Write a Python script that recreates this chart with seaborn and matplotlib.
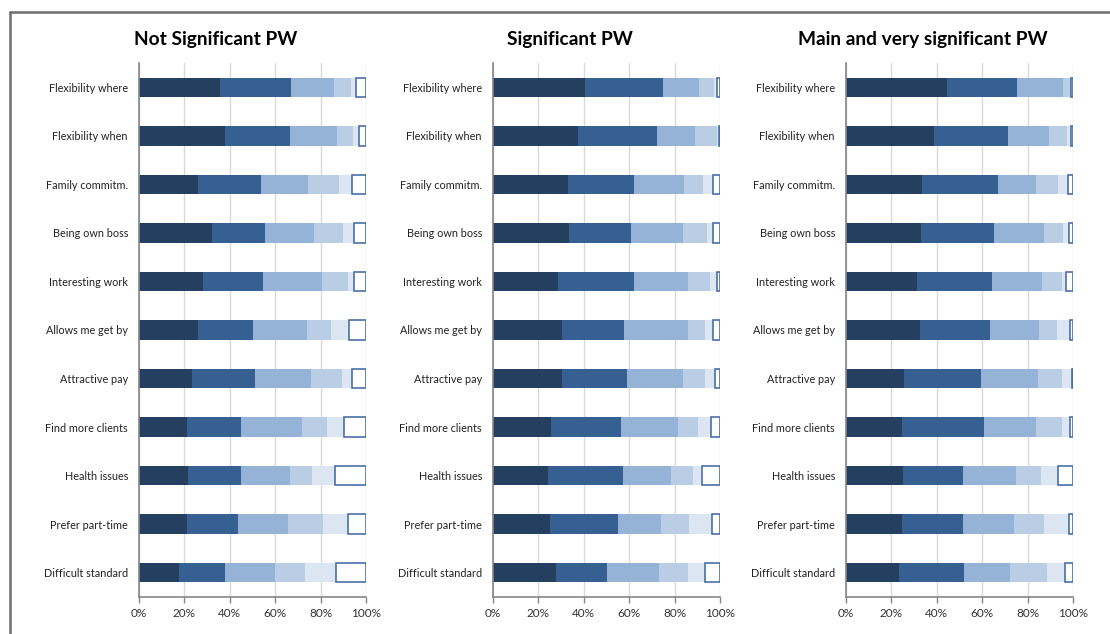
import matplotlib
matplotlib.use("Agg")
import matplotlib.pyplot as plt
import seaborn as sns
import numpy as np
import pandas as pd
from matplotlib.lines import Line2D

categories = ["Flexibility where", "Flexibility when", "Family commitm.", "Being own boss",
              "Interesting work", "Allows me get by", "Attractive pay", "Find more clients",
              "Health issues", "Prefer part-time", "Difficult standard"]

panel_titles = ["Not Significant PW", "Significant PW", "Main and very significant PW"]

# cumulative boundaries (%) of the first five segments; last segment runs to 100%
cum_not_sig = [
    [35.5, 66.9, 86.1, 93.5, 95.5],
    [38.1, 66.6, 87.4, 94.4, 96.8],
    [26.2, 53.7, 74.6, 88.3, 93.7],
    [32.0, 55.7, 77.0, 90.0, 94.7],
    [28.2, 54.8, 80.8, 92.2, 94.6],
    [26.2, 50.1, 74.2, 84.8, 92.4],
    [23.5, 50.9, 75.7, 89.6, 93.7],
    [21.0, 44.9, 71.6, 82.6, 90.2],
    [21.4, 44.9, 66.6, 76.4, 86.2],
    [21.0, 43.5, 65.8, 81.2, 92.2],
    [17.6, 38.0, 59.8, 73.2, 86.8],
]
cum_sig = [
    [40.5, 75.1, 90.6, 97.4, 98.8],
    [37.6, 72.4, 89.2, 98.7, 99.4],
    [32.9, 62.0, 84.2, 92.4, 96.8],
    [33.5, 60.7, 83.6, 94.2, 96.8],
    [28.8, 62.1, 86.0, 95.5, 98.7],
    [30.3, 57.7, 86.0, 93.4, 96.9],
    [30.6, 58.9, 83.9, 93.4, 97.8],
    [25.7, 56.4, 81.4, 90.2, 96.1],
    [24.1, 57.3, 78.2, 88.3, 92.1],
    [24.9, 55.0, 74.0, 86.3, 96.5],
    [27.8, 50.4, 73.1, 86.1, 93.3],
]
cum_main = [
    [44.4, 75.5, 95.7, 98.5, 99.0],
    [38.6, 71.4, 89.4, 97.2, 99.0],
    [33.4, 66.9, 83.6, 93.3, 97.7],
    [33.1, 65.2, 87.2, 95.5, 98.1],
    [31.1, 64.2, 86.2, 95.0, 96.9],
    [32.6, 63.3, 85.0, 93.1, 98.7],
    [25.5, 59.5, 84.6, 95.2, 99.6],
    [24.8, 60.7, 83.6, 95.0, 98.5],
    [25.2, 51.6, 75.1, 86.1, 93.4],
    [24.8, 51.5, 74.0, 87.1, 98.1],
    [23.5, 52.1, 72.1, 88.4, 96.5],
]

seg_colors = ["#243F60", "#366092", "#95B3D7", "#B9CDE5", "#DCE6F2", "#FFFFFF"]

sns.set_style("white")
plt.rcParams["font.family"] = ["Lato", "DejaVu Sans"]

fig = plt.figure(figsize=(11.10, 6.34), dpi=100)

lefts = [139 / 1110, 493 / 1110, 846 / 1110]
width = 227 / 1110
bottom = 1 - 597 / 634
height = (597 - 63) / 634

for p, (cum, title) in enumerate(zip([cum_not_sig, cum_sig, cum_main], panel_titles)):
    ax = fig.add_axes([lefts[p], bottom, width, height])
    arr = np.array(cum)
    full = np.column_stack([arr, np.full(len(categories), 100.0)])
    # draw from the end (100%) back so each shorter bar overlays the longer one
    for k in range(5, -1, -1):
        df = pd.DataFrame({"cat": categories, "val": full[:, k]})
        sns.barplot(data=df, y="cat", x="val", orient="h", color=seg_colors[k],
                    edgecolor="none", linewidth=0, width=0.4, ax=ax, saturation=1)
    # outlined last segment (from the end of the fifth segment to 100%)
    ypos = np.arange(len(categories))
    ax.barh(ypos, 100.0 - arr[:, 4], left=arr[:, 4], height=0.4,
            color="white", edgecolor="#4A6FA5", linewidth=1.2, zorder=3)
    ax.set_xlim(0, 100)
    ax.set_ylim(len(categories) - 0.5, -0.5)
    ax.set_xlabel("")
    ax.set_ylabel("")
    ax.set_xticks([0, 20, 40, 60, 80, 100])
    ax.set_xticklabels(["0%", "20%", "40%", "60%", "80%", "100%"], fontsize=8.5, color="#333333")
    ax.xaxis.grid(True, color="#D9D9D9", linewidth=1)
    ax.set_axisbelow(True)
    ax.set_yticks(ypos)
    ax.set_yticklabels(categories)
    ax.tick_params(axis="y", length=0, labelsize=7.8, labelcolor="#222222", pad=8)
    ax.set_yticks(np.arange(-0.5, len(categories)), minor=True)
    ax.tick_params(axis="y", which="minor", length=4, color="#868686", width=1)
    ax.tick_params(axis="x", length=4, color="#868686", width=1, direction="out", bottom=True, pad=4)
    for s in ["top", "right"]:
        ax.spines[s].set_visible(False)
    for s in ["left", "bottom"]:
        ax.spines[s].set_color("#868686")
        ax.spines[s].set_linewidth(1.2)
        ax.spines[s].set_zorder(4)
    ax.set_title(title, fontsize=13.8, fontweight="bold", pad=13, color="#000000", x=0.337)

# outer frame (left and top edges visible)
fig.add_artist(Line2D([10 / 1110, 10 / 1110], [0, 1 - 12 / 634], transform=fig.transFigure,
                      color="#6E6E6E", linewidth=1.8))
fig.add_artist(Line2D([10 / 1110, 1], [1 - 12 / 634, 1 - 12 / 634], transform=fig.transFigure,
                      color="#6E6E6E", linewidth=1.8))

fig.savefig("out.png", dpi=100)
